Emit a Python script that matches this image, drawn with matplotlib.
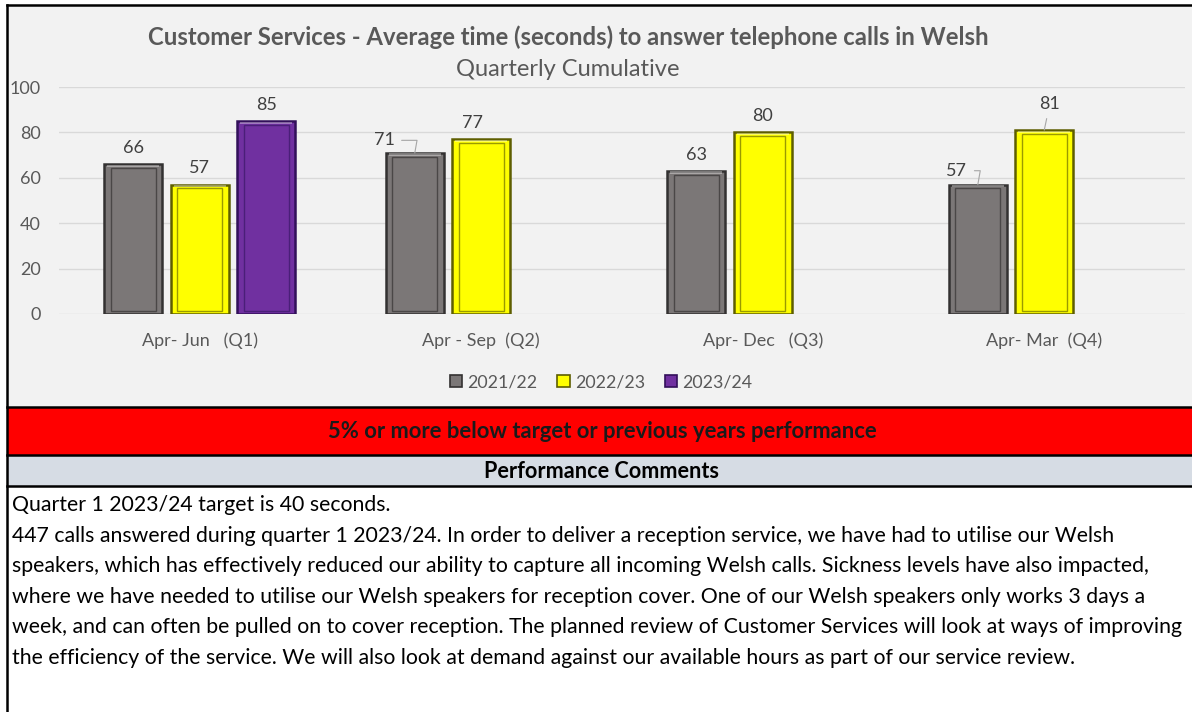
import matplotlib
matplotlib.use("Agg")
import matplotlib.pyplot as plt
from matplotlib.patches import Rectangle, Patch
import numpy as np

# data
quarters = ["Apr- Jun   (Q1)", "Apr - Sep  (Q2)", "Apr- Dec   (Q3)", "Apr- Mar  (Q4)"]
years = ["2021/22", "2022/23", "2023/24"]
vals_2122 = [66, 71, 63, 57]
vals_2223 = [57, 77, 80, 81]
vals_2324 = [85, np.nan, np.nan, np.nan]

title = "Customer Services - Average time (seconds) to answer telephone calls in Welsh"
subtitle = "Quarterly Cumulative"
status_text = "5% or more below target or previous years performance"
comments_header = "Performance Comments"
comment_lines = [
    "Quarter 1 2023/24 target is 40 seconds.",
    "447 calls answered during quarter 1 2023/24. In order to deliver a reception service, we have had to utilise our Welsh",
    "speakers, which has effectively reduced our ability to capture all incoming Welsh calls. Sickness levels have also impacted,",
    "where we have needed to utilise our Welsh speakers for reception cover. One of our Welsh speakers only works 3 days a",
    "week, and can often be pulled on to cover reception. The planned review of Customer Services will look at ways of improving",
    "the efficiency of the service. We will also look at demand against our available hours as part of our service review.",
]

W, H = 1192, 712
FONT = "Lato"
GREY_TXT = "#595959"
TICK_FS = 13

fills = ["#7b7777", "#ffff00", "#7030a0"]
edges = ["#333131", "#5e5e00", "#32105a"]
inner = ["#4a4747", "#9a9a00", "#4a1f78"]


def fx(px):
    return px / W


def fy(py):
    return 1 - py / H


fig = plt.figure(figsize=(W / 100, H / 100), dpi=100)
fig.patch.set_facecolor("white")

# background panels
fig.patches.append(Rectangle((fx(7), fy(406)), fx(1192 - 7), (406 - 5) / H,
                             transform=fig.transFigure, facecolor="#f2f2f2", edgecolor="none", zorder=0))
fig.patches.append(Rectangle((fx(7), fy(455)), fx(1192 - 7), (455 - 407) / H,
                             transform=fig.transFigure, facecolor="#ff0000", edgecolor="none", zorder=0))
fig.patches.append(Rectangle((fx(7), fy(486)), fx(1192 - 7), (486 - 456) / H,
                             transform=fig.transFigure, facecolor="#d6dce4", edgecolor="none", zorder=0))
for yy in [5, 407, 455, 486]:
    fig.add_artist(plt.Line2D([fx(7), 1], [fy(yy), fy(yy)], transform=fig.transFigure, color="black", lw=1.8))
fig.add_artist(plt.Line2D([fx(7), fx(7)], [fy(5), 0], transform=fig.transFigure, color="black", lw=1.8))

# chart axes
ax = fig.add_axes([fx(59), fy(314), fx(1185 - 59), (314 - 87) / H])
ax.set_zorder(2)
ax.set_facecolor("none")
ax.set_xlim(-0.5, 3.5)
ax.set_ylim(0, 100)
ax.set_yticks(range(0, 101, 20))
ax.yaxis.grid(True, color="#d9d9d9", lw=1)
ax.set_axisbelow(True)
for s in ax.spines.values():
    s.set_visible(False)
ax.tick_params(length=0)
ax.set_xticks(range(len(quarters)))
ax.set_xticklabels(quarters, fontsize=TICK_FS, color=GREY_TXT, family=FONT)
ax.tick_params(axis="x", pad=13)
ax.tick_params(axis="y", pad=13)
for t in ax.get_yticklabels():
    t.set_fontsize(TICK_FS)
    t.set_color(GREY_TXT)
    t.set_family(FONT)

x = np.arange(len(quarters))
bw = 0.206
off = 0.236
series = [vals_2122, vals_2223, vals_2324]
for i, vals in enumerate(series):
    xs = x + (i - 1) * off
    v = np.array(vals, dtype=float)
    ax.bar(xs, v, width=bw, color=fills[i], edgecolor=edges[i], lw=1.8, zorder=3)
    # bevel: inner outline inset from the edges
    ax.bar(xs, v - 3.2, bottom=1.5, width=bw * 0.78, fill=False, edgecolor=inner[i], lw=1.0, zorder=4)
    ax.bar(xs, 1.0, bottom=v - 1.2, width=bw * 0.9, color="white", alpha=0.35, lw=0, zorder=4)

# value labels (some with leader lines as in the source)
leader = {(0, 1): (-22, 9), (0, 3): (-15, 10), (1, 3): (4, 19)}
shift = {(1, 1): -6}
for i, vals in enumerate(series):
    for j, v in enumerate(vals):
        if np.isnan(v):
            continue
        xx = x[j] + (i - 1) * off
        if (i, j) in leader:
            dx, dy = leader[(i, j)]
            ax.annotate(f"{v:.0f}", xy=(xx, v), xytext=(dx, dy), textcoords="offset points",
                        ha="center", va="center", fontsize=TICK_FS, color="#404040", family=FONT,
                        arrowprops=dict(arrowstyle="-", color="#a6a6a6", lw=0.8,
                                        shrinkA=3, shrinkB=0,
                                        connectionstyle="angle,angleA=0,angleB=80,rad=0" if i == 0 else "arc3"))
        else:
            ax.annotate(f"{v:.0f}", xy=(xx, v), xytext=(shift.get((i, j), 0), 6), textcoords="offset points",
                        ha="center", va="bottom", fontsize=TICK_FS, color="#404040", family=FONT)

# titles
fig.text(fx(568), fy(37), title, ha="center", va="center", fontsize=17.2, fontweight="bold",
         color=GREY_TXT, family=FONT)
fig.text(fx(568), fy(69), subtitle, ha="center", va="center", fontsize=17, color=GREY_TXT, family=FONT)

# legend
handles = [Patch(facecolor=fills[i], edgecolor=edges[i], lw=1.2) for i in range(3)]
leg = fig.legend(handles, years, loc="center", bbox_to_anchor=(fx(601), fy(382)), ncol=3, frameon=False,
                 handlelength=0.7, handleheight=0.7, handletextpad=0.3, columnspacing=1.1,
                 prop={"family": FONT, "size": 12.8})
for t in leg.get_texts():
    t.set_color(GREY_TXT)

# bands
fig.text(fx(602), fy(432), status_text, ha="center", va="center", fontsize=15.8, fontweight="bold",
         color="#1a1a1a", family=FONT)
fig.text(fx(602), fy(472), comments_header, ha="center", va="center", fontsize=15.6, fontweight="bold",
         color="black", family=FONT)

# comments, sized so the longest line fills the width as in the source
texts = []
for k, line in enumerate(comment_lines):
    texts.append(fig.text(fx(12), fy(505 + k * 30.6), line, ha="left", va="center", fontsize=14,
                          color="black", family=FONT))
fig.canvas.draw()
r = fig.canvas.get_renderer()
widest = max(t.get_window_extent(r).width for t in texts)
scale = (1186 - 12) / widest
for t in texts:
    t.set_fontsize(14 * scale)

fig.savefig("out.png", dpi=100)
